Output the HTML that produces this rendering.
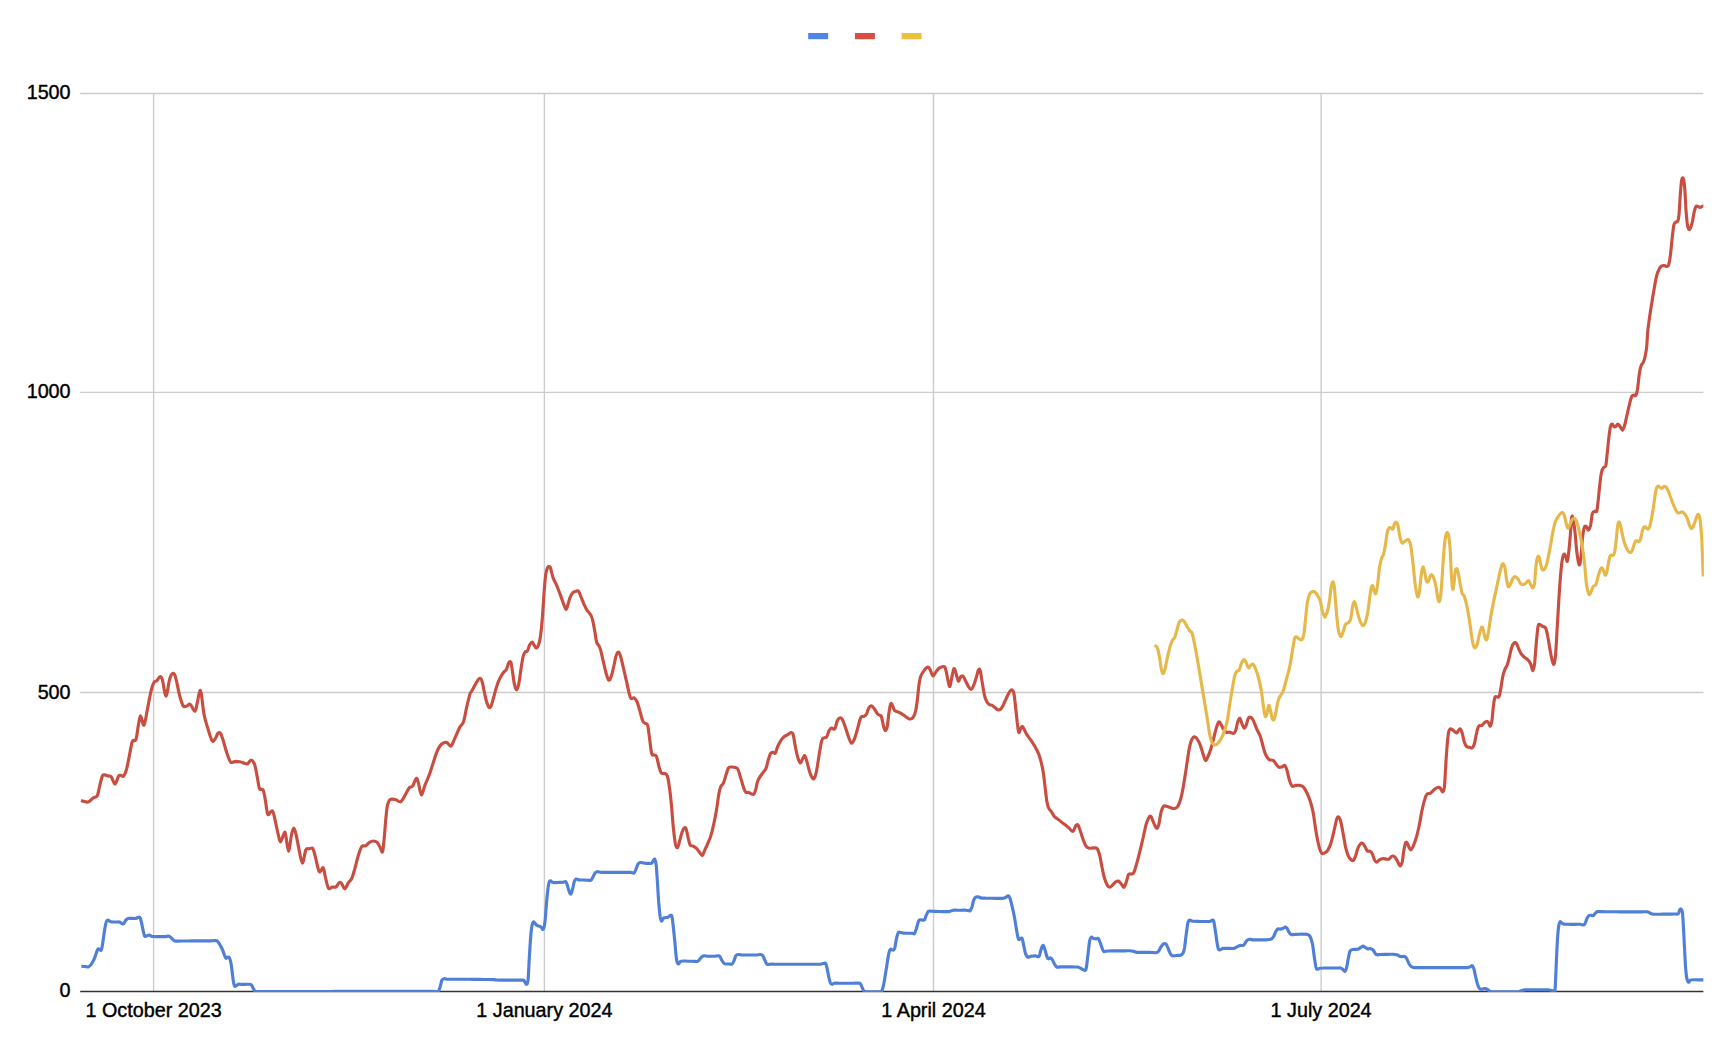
<!DOCTYPE html>
<html lang="en"><head><meta charset="utf-8"><title>Chart</title>
<style>
html,body{margin:0;padding:0;background:#fff;}
body{width:1732px;height:1055px;overflow:hidden;position:relative;font-family:"Liberation Sans",Arial,sans-serif;}
svg{position:absolute;left:0;top:0;display:block;}
.lab{position:absolute;-webkit-text-stroke:0.4px #000;font-size:19.75px;line-height:22px;color:#000;white-space:nowrap;}
.yl{text-align:right;width:60px;left:10.6px;}
.xl{transform:translateX(-50%);top:999.1px;}
</style></head><body>
<svg width="1732" height="1055" viewBox="0 0 1732 1055">
<rect x="0" y="0" width="1732" height="1055" fill="#fff"/>
<g fill="none" stroke="#cccccc" stroke-width="1.4">
<path d="M80.2 93.5 H1703.4"/>
<path d="M80.2 392.4 H1703.4"/>
<path d="M80.2 692.5 H1703.4"/>
<path d="M153.6 93.5 V991.4"/>
<path d="M544.4 93.5 V991.4"/>
<path d="M933.5 93.5 V991.4"/>
<path d="M1321.1 93.5 V991.4"/>
</g>
<path d="M80.2 991.4 H1703.4" stroke="#333333" stroke-width="1.5" fill="none"/>
<clipPath id="ca"><rect x="79.7" y="80" width="1624.2" height="912.1"/></clipPath>
<g fill="none" stroke-linejoin="round" stroke-linecap="butt" stroke-width="3.15" clip-path="url(#ca)">
<path stroke="#4f7fd6" d="M81.3 966.2 C82.0 966.3 84.5 966.5 85.6 966.6 C86.8 966.7 87.3 967.2 88.2 966.9 C89.1 966.6 89.9 966.1 90.8 964.9 C91.8 963.6 93.0 961.7 93.9 959.7 C94.9 957.6 95.7 954.5 96.4 952.7 C97.1 950.9 97.5 949.4 98.1 948.9 C98.7 948.4 99.3 949.4 99.8 949.6 C100.3 949.8 100.8 951.0 101.2 950.1 C101.7 949.2 102.1 947.1 102.6 944.0 C103.1 941.0 103.8 935.5 104.3 931.9 C104.9 928.3 105.5 924.3 106.1 922.4 C106.6 920.4 107.0 920.2 107.8 920.1 C108.6 920.0 109.5 921.5 110.8 921.8 C112.0 922.2 113.6 922.0 115.1 922.0 C116.5 922.1 118.3 921.8 119.4 922.0 C120.6 922.3 121.3 923.3 122.0 923.6 C122.7 923.8 123.1 924.2 123.8 923.6 C124.4 923.0 125.1 921.0 125.8 920.1 C126.6 919.2 127.1 918.7 128.1 918.4 C129.0 918.1 130.3 918.4 131.6 918.4 C132.9 918.4 134.7 918.6 135.9 918.4 C137.1 918.2 137.8 917.2 138.5 917.2 C139.2 917.1 139.7 916.7 140.2 918.0 C140.8 919.3 141.4 922.5 142.0 925.0 C142.5 927.4 143.2 930.9 143.7 932.8 C144.2 934.7 144.3 935.8 144.9 936.2 C145.5 936.7 146.4 935.9 147.2 935.7 C147.9 935.5 148.7 934.9 149.4 935.0 C150.1 935.1 150.6 936.0 151.5 936.2 C152.4 936.5 154.0 936.5 155.0 936.6 C156.0 936.6 156.7 936.6 157.6 936.6 C158.4 936.6 159.3 936.6 160.2 936.6 C161.0 936.6 161.9 936.6 162.8 936.6 C163.6 936.6 164.4 936.6 165.4 936.6 C166.4 936.5 167.8 936.0 168.8 936.2 C169.9 936.5 170.6 937.3 171.4 938.0 C172.3 938.7 173.2 940.1 174.0 940.6 C174.9 941.1 175.4 941.0 176.6 941.1 C177.9 941.2 179.9 941.1 181.6 941.0 C183.2 941.0 184.8 941.0 186.5 941.0 C188.1 941.0 189.8 940.9 191.4 940.9 C192.9 940.9 194.3 940.9 195.7 940.9 C197.2 940.9 198.6 940.9 200.1 940.9 C201.5 940.9 202.9 940.9 204.4 940.9 C205.8 940.9 207.5 941.0 208.7 940.9 C210.0 940.9 210.8 940.8 211.8 940.8 C212.8 940.7 213.9 940.5 214.8 940.6 C215.7 940.6 216.3 940.3 217.1 940.9 C217.8 941.5 218.6 942.7 219.5 944.0 C220.3 945.4 221.4 947.5 222.3 949.2 C223.1 951.0 223.7 953.3 224.3 954.8 C225.0 956.3 225.5 957.9 226.1 958.3 C226.6 958.6 227.2 957.1 227.8 957.1 C228.4 957.0 229.0 956.6 229.5 957.9 C230.1 959.2 230.7 961.4 231.3 964.9 C231.8 968.3 232.5 975.3 233.0 978.7 C233.5 982.2 233.9 984.5 234.4 985.7 C234.9 986.9 235.5 986.2 236.1 986.0 C236.8 985.8 237.4 984.6 238.2 984.3 C239.0 984.0 239.9 984.3 240.8 984.3 C241.7 984.3 242.5 984.3 243.4 984.3 C244.3 984.3 245.1 984.3 246.0 984.3 C246.9 984.3 247.7 984.2 248.6 984.3 C249.5 984.4 250.4 984.0 251.2 984.8 C252.0 985.5 252.8 987.7 253.5 988.8 C254.1 989.9 254.5 990.9 255.2 991.4 C256.0 991.8 257.1 991.4 258.0 991.5 C258.9 991.5 259.5 991.5 260.8 991.6 C262.0 991.6 264.1 991.6 265.7 991.6 C267.4 991.6 269.0 991.5 270.7 991.5 C272.3 991.5 274.0 991.5 275.6 991.5 C277.3 991.5 279.0 991.5 280.6 991.5 C282.3 991.5 283.9 991.5 285.6 991.5 C287.2 991.5 288.9 991.5 290.5 991.5 C292.2 991.5 293.9 991.5 295.5 991.5 C297.2 991.5 298.8 991.5 300.5 991.5 C302.1 991.5 303.8 991.5 305.4 991.5 C307.1 991.5 308.8 991.5 310.4 991.5 C312.1 991.5 313.7 991.5 315.4 991.5 C317.0 991.5 318.7 991.5 320.3 991.5 C322.0 991.5 323.7 991.5 325.3 991.5 C327.0 991.5 328.6 991.5 330.3 991.5 C331.9 991.4 333.6 991.4 335.2 991.4 C336.9 991.4 338.5 991.4 340.2 991.4 C341.9 991.4 343.5 991.4 345.2 991.4 C346.8 991.4 348.5 991.4 350.1 991.4 C351.8 991.4 353.4 991.4 355.1 991.4 C356.8 991.4 358.4 991.4 360.1 991.4 C361.7 991.4 363.4 991.4 365.0 991.4 C366.7 991.4 368.5 991.4 370.0 991.4 C371.5 991.4 372.9 991.4 374.3 991.4 C375.7 991.4 377.1 991.4 378.6 991.4 C380.0 991.4 381.4 991.4 382.9 991.4 C384.3 991.4 385.7 991.4 387.1 991.4 C388.6 991.4 390.0 991.4 391.4 991.4 C392.9 991.4 394.3 991.4 395.7 991.4 C397.1 991.4 398.5 991.4 400.0 991.4 C401.5 991.4 403.2 991.4 404.8 991.4 C406.4 991.4 407.9 991.4 409.5 991.4 C411.1 991.4 412.7 991.4 414.3 991.4 C415.9 991.4 417.5 991.4 419.1 991.4 C420.7 991.4 422.3 991.4 423.8 991.4 C425.4 991.4 427.0 991.4 428.6 991.4 C430.2 991.4 431.8 991.4 433.4 991.4 C435.0 991.4 437.0 992.2 438.2 991.4 C439.3 990.6 439.6 988.4 440.2 986.5 C440.9 984.7 441.3 981.4 442.0 980.1 C442.6 978.8 443.3 978.9 444.2 978.7 C445.2 978.6 446.4 979.2 447.7 979.2 C449.0 979.3 450.6 979.2 452.0 979.2 C453.5 979.2 454.9 979.2 456.4 979.2 C457.8 979.2 459.2 979.2 460.7 979.2 C462.1 979.2 463.6 979.2 465.0 979.2 C466.5 979.2 467.8 979.2 469.4 979.2 C470.9 979.3 472.6 979.3 474.2 979.3 C475.8 979.3 477.5 979.4 479.1 979.4 C480.7 979.4 482.3 979.4 483.9 979.5 C485.5 979.5 487.2 979.5 488.8 979.5 C490.4 979.5 492.4 979.5 493.6 979.6 C494.9 979.7 495.4 979.8 496.2 979.9 C497.1 979.9 497.7 980.1 498.8 980.1 C500.0 980.2 501.8 980.1 503.4 980.1 C504.9 980.1 506.4 980.1 507.9 980.1 C509.4 980.1 510.9 980.1 512.4 980.1 C513.9 980.1 515.4 980.1 516.9 980.1 C518.4 980.1 520.2 980.1 521.4 980.1 C522.6 980.2 523.2 979.8 524.0 980.5 C524.8 981.2 525.6 984.3 526.2 984.3 C526.9 984.3 527.5 984.6 528.0 980.5 C528.5 976.4 528.8 966.3 529.2 959.7 C529.6 953.0 530.0 946.1 530.4 940.6 C530.8 935.1 531.3 929.8 531.8 926.7 C532.3 923.6 532.9 922.3 533.5 921.8 C534.2 921.4 534.9 923.4 535.6 924.1 C536.3 924.8 537.0 925.4 537.9 925.8 C538.7 926.3 539.9 926.1 540.8 926.7 C541.7 927.3 542.4 929.9 543.1 929.3 C543.7 928.7 544.3 926.6 544.8 923.2 C545.3 919.9 545.6 914.3 546.0 909.4 C546.4 904.5 546.9 898.1 547.4 893.8 C547.9 889.4 548.3 885.5 548.8 883.4 C549.3 881.2 549.8 880.9 550.5 880.8 C551.2 880.6 551.7 882.2 552.9 882.5 C554.2 882.8 556.6 882.5 557.8 882.5 C559.0 882.5 559.5 882.4 560.4 882.4 C561.3 882.4 562.1 882.4 563.0 882.3 C563.9 882.2 564.9 881.2 565.6 881.6 C566.3 882.1 566.8 883.5 567.3 885.1 C567.9 886.7 568.5 889.7 569.1 891.2 C569.7 892.7 570.2 894.4 570.8 894.1 C571.4 893.8 572.0 891.5 572.5 889.4 C573.1 887.3 573.7 883.4 574.3 881.6 C574.9 879.9 575.1 879.3 576.0 879.0 C576.9 878.7 578.3 879.7 579.5 879.9 C580.6 880.0 581.8 879.9 582.9 880.0 C584.1 880.0 585.1 880.0 586.4 880.1 C587.7 880.1 589.7 880.7 590.8 880.2 C591.8 879.8 592.1 878.5 592.8 877.3 C593.6 876.1 594.3 873.9 595.1 872.9 C595.8 872.0 596.3 871.8 597.3 871.7 C598.4 871.6 599.9 872.3 601.2 872.4 C602.4 872.5 603.8 872.4 605.1 872.4 C606.4 872.4 607.7 872.4 609.0 872.4 C610.3 872.4 611.6 872.4 612.9 872.4 C614.2 872.4 615.3 872.4 616.8 872.4 C618.2 872.4 619.8 872.4 621.4 872.4 C622.9 872.4 624.5 872.4 626.0 872.4 C627.6 872.4 629.3 872.3 630.6 872.4 C632.0 872.5 633.2 873.6 634.1 872.9 C635.0 872.3 635.5 870.2 636.2 868.6 C636.9 867.0 637.7 864.4 638.4 863.4 C639.2 862.4 639.7 862.6 640.7 862.5 C641.7 862.5 643.3 863.1 644.5 863.2 C645.7 863.4 646.8 863.3 648.0 863.3 C649.1 863.4 650.6 863.8 651.4 863.4 C652.3 863.0 652.6 861.5 653.2 860.8 C653.8 860.1 654.4 858.6 654.9 859.4 C655.4 860.3 655.9 862.0 656.3 866.0 C656.7 870.0 657.1 877.3 657.5 883.4 C657.9 889.4 658.3 896.9 658.7 902.4 C659.2 907.9 659.7 913.2 660.1 916.3 C660.6 919.4 660.9 920.9 661.5 921.2 C662.1 921.4 662.5 918.7 663.6 918.0 C664.7 917.4 666.8 917.6 667.9 917.2 C669.0 916.7 669.5 915.6 670.2 915.4 C670.8 915.3 671.4 914.7 671.9 916.3 C672.4 917.9 672.6 920.6 673.1 925.0 C673.6 929.3 674.3 936.5 674.9 942.3 C675.4 948.1 676.0 956.0 676.6 959.7 C677.2 963.3 677.7 963.7 678.3 964.0 C679.0 964.3 679.6 961.9 680.6 961.4 C681.6 960.9 683.0 961.1 684.4 961.0 C685.7 961.0 687.3 961.1 688.7 961.2 C690.1 961.2 691.6 961.2 693.0 961.3 C694.5 961.3 696.3 961.7 697.3 961.4 C698.4 961.1 698.7 960.4 699.4 959.7 C700.1 958.9 700.9 957.7 701.7 957.1 C702.4 956.4 702.9 956.0 703.9 955.8 C704.9 955.7 706.5 956.1 707.7 956.2 C709.0 956.2 710.1 956.2 711.2 956.2 C712.4 956.2 713.6 956.2 714.7 956.2 C715.8 956.1 716.9 955.8 717.8 955.8 C718.7 955.9 719.2 955.8 719.9 956.5 C720.6 957.3 721.2 959.4 722.0 960.5 C722.7 961.7 723.4 962.9 724.2 963.5 C725.0 964.0 726.0 963.9 726.8 964.0 C727.7 964.1 728.6 964.0 729.4 964.0 C730.3 964.0 731.2 964.6 732.0 964.0 C732.8 963.4 733.5 961.9 734.1 960.5 C734.7 959.2 735.2 956.8 735.8 955.8 C736.5 954.8 737.0 954.6 738.1 954.5 C739.2 954.3 740.9 954.9 742.4 955.0 C743.9 955.1 745.5 955.0 747.1 955.0 C748.6 955.0 750.1 955.0 751.7 955.0 C753.2 955.0 754.8 955.1 756.3 955.0 C757.8 954.9 759.5 954.3 760.6 954.5 C761.7 954.6 762.2 954.8 762.9 955.8 C763.6 956.8 764.3 959.1 765.0 960.5 C765.7 961.9 766.2 963.7 767.1 964.3 C767.9 964.9 768.9 964.2 770.2 964.2 C771.4 964.1 773.1 964.2 774.6 964.2 C776.1 964.2 777.6 964.2 779.1 964.2 C780.6 964.2 782.1 964.2 783.6 964.2 C785.0 964.2 786.5 964.2 788.0 964.2 C789.5 964.2 791.0 964.2 792.5 964.2 C794.0 964.2 795.4 964.2 796.9 964.2 C798.4 964.2 799.8 964.2 801.4 964.2 C802.9 964.2 804.6 964.2 806.2 964.2 C807.7 964.2 809.3 964.2 810.9 964.2 C812.5 964.2 814.1 964.2 815.7 964.2 C817.3 964.2 819.1 964.3 820.5 964.2 C821.8 964.0 822.7 963.6 823.6 963.5 C824.5 963.4 825.1 962.7 825.7 963.5 C826.2 964.3 826.5 966.1 827.1 968.3 C827.6 970.6 828.2 974.5 828.8 977.0 C829.4 979.5 829.9 981.8 830.5 983.1 C831.1 984.3 831.6 984.2 832.3 984.3 C832.9 984.3 833.2 983.4 834.3 983.2 C835.5 983.1 837.5 983.2 839.1 983.2 C840.7 983.2 842.3 983.2 843.9 983.2 C845.5 983.2 847.1 983.2 848.6 983.2 C850.2 983.2 851.9 983.3 853.4 983.2 C854.9 983.2 856.6 983.0 857.7 983.1 C858.9 983.1 859.6 982.9 860.3 983.6 C861.1 984.3 861.5 986.2 862.1 987.4 C862.7 988.6 863.1 990.1 863.8 990.9 C864.5 991.6 865.3 991.6 866.4 991.7 C867.6 991.9 869.3 991.7 870.8 991.7 C872.2 991.7 873.6 991.7 875.1 991.7 C876.5 991.7 878.3 991.9 879.4 991.7 C880.6 991.5 881.3 991.8 882.0 990.5 C882.7 989.2 883.0 987.6 883.8 983.9 C884.5 980.2 885.5 973.5 886.4 968.3 C887.2 963.1 888.2 955.9 889.0 952.7 C889.7 949.5 890.0 949.7 890.7 949.2 C891.4 948.8 892.3 950.3 892.9 950.1 C893.6 950.0 894.1 950.3 894.7 948.4 C895.3 946.5 895.8 941.4 896.4 938.8 C897.0 936.2 897.5 933.9 898.2 932.8 C898.8 931.7 899.3 932.2 900.2 932.3 C901.2 932.3 902.4 933.0 903.7 933.1 C905.0 933.3 906.6 933.2 908.0 933.2 C909.5 933.2 911.3 933.2 912.4 933.3 C913.4 933.4 913.8 934.3 914.5 933.6 C915.1 933.0 915.5 931.3 916.2 929.3 C916.8 927.3 917.8 923.1 918.4 921.5 C919.1 919.9 919.5 920.0 920.2 919.8 C920.9 919.5 922.1 920.1 922.8 920.1 C923.5 920.1 923.9 920.5 924.5 919.8 C925.1 919.0 925.6 916.8 926.2 915.4 C926.9 914.0 927.6 912.2 928.3 911.4 C929.0 910.7 929.5 911.1 930.6 911.1 C931.7 911.1 933.5 911.4 934.9 911.4 C936.3 911.5 937.6 911.5 939.0 911.5 C940.3 911.5 941.7 911.5 943.0 911.6 C944.4 911.6 945.9 911.6 947.1 911.6 C948.2 911.6 948.6 911.7 949.7 911.4 C950.7 911.2 951.8 910.4 953.1 910.2 C954.4 910.0 956.0 910.2 957.5 910.2 C958.9 910.2 960.3 910.2 961.8 910.2 C963.2 910.2 964.8 910.1 966.1 910.2 C967.4 910.3 968.9 910.7 969.6 910.8 C970.3 910.8 969.7 911.3 970.1 910.8 C970.4 910.2 971.2 909.3 971.8 907.6 C972.4 906.0 972.9 902.4 973.5 900.7 C974.2 899.0 974.8 897.9 975.6 897.2 C976.4 896.6 977.2 896.7 978.2 896.9 C979.2 897.0 980.4 897.9 981.7 898.1 C983.0 898.3 984.6 898.1 986.0 898.2 C987.5 898.2 988.9 898.2 990.3 898.2 C991.8 898.2 993.2 898.3 994.7 898.3 C996.1 898.3 997.6 898.3 999.0 898.3 C1000.5 898.3 1002.2 898.4 1003.4 898.3 C1004.5 898.1 1005.1 897.6 1006.0 897.2 C1006.8 896.8 1007.5 895.7 1008.2 895.8 C1008.9 896.0 1009.3 896.4 1009.9 898.1 C1010.6 899.8 1011.2 902.6 1012.0 905.9 C1012.8 909.2 1013.8 913.7 1014.6 918.0 C1015.4 922.4 1016.2 928.4 1016.9 931.9 C1017.5 935.4 1018.0 938.0 1018.6 939.2 C1019.2 940.3 1019.8 939.0 1020.3 938.8 C1020.9 938.7 1021.5 937.3 1022.1 938.5 C1022.7 939.7 1023.2 943.3 1023.8 945.8 C1024.4 948.3 1024.9 951.7 1025.5 953.6 C1026.2 955.5 1026.7 956.6 1027.6 957.1 C1028.6 957.5 1029.8 956.4 1031.1 956.2 C1032.4 956.0 1034.1 955.8 1035.4 955.8 C1036.7 955.9 1038.0 957.3 1038.9 956.5 C1039.8 955.7 1040.1 952.7 1040.6 951.0 C1041.2 949.2 1041.9 947.0 1042.4 946.1 C1042.9 945.3 1043.1 945.0 1043.6 945.8 C1044.1 946.6 1044.7 949.1 1045.3 951.0 C1045.9 952.9 1046.5 955.8 1047.1 957.1 C1047.6 958.4 1047.9 958.6 1048.4 958.8 C1049.0 958.9 1049.9 957.8 1050.5 957.9 C1051.2 958.1 1051.6 958.6 1052.3 959.7 C1052.9 960.7 1053.8 962.7 1054.5 964.0 C1055.3 965.2 1055.9 966.6 1056.8 967.1 C1057.6 967.6 1058.5 967.0 1059.7 966.9 C1060.9 966.9 1062.6 966.9 1064.0 966.9 C1065.5 966.9 1066.9 966.9 1068.4 966.9 C1069.8 966.9 1071.6 966.9 1072.7 966.9 C1073.9 967.0 1074.5 967.0 1075.3 967.0 C1076.2 967.1 1076.9 966.8 1077.9 967.1 C1078.9 967.4 1080.3 968.1 1081.4 968.7 C1082.5 969.2 1083.7 970.5 1084.5 970.4 C1085.3 970.3 1085.7 971.0 1086.2 968.3 C1086.8 965.7 1087.4 959.1 1088.0 954.5 C1088.6 949.8 1089.1 943.5 1089.7 940.6 C1090.3 937.7 1090.8 937.5 1091.4 937.1 C1092.1 936.8 1092.7 938.2 1093.5 938.5 C1094.3 938.8 1095.3 938.8 1096.1 938.8 C1096.9 938.8 1097.7 937.9 1098.4 938.5 C1099.0 939.1 1099.5 940.7 1100.1 942.3 C1100.8 944.0 1101.6 946.8 1102.2 948.4 C1102.8 949.9 1103.1 951.1 1103.9 951.5 C1104.8 951.9 1106.1 951.1 1107.4 951.0 C1108.7 950.9 1110.3 950.9 1111.7 950.9 C1113.2 950.9 1114.6 950.8 1116.1 950.8 C1117.6 950.8 1119.2 950.8 1120.7 950.8 C1122.2 950.8 1123.8 950.8 1125.3 950.8 C1126.9 950.8 1128.6 950.7 1129.9 950.8 C1131.3 950.9 1132.3 951.1 1133.4 951.3 C1134.6 951.6 1135.5 952.2 1136.9 952.4 C1138.2 952.5 1140.0 952.4 1141.5 952.4 C1143.0 952.4 1144.6 952.4 1146.1 952.4 C1147.7 952.4 1149.5 952.3 1150.8 952.4 C1152.0 952.4 1152.5 952.5 1153.4 952.5 C1154.2 952.6 1155.1 952.9 1156.0 952.7 C1156.8 952.5 1157.7 952.3 1158.6 951.3 C1159.4 950.4 1160.0 948.4 1160.8 947.2 C1161.6 946.0 1162.5 944.6 1163.2 944.0 C1164.0 943.5 1164.8 943.4 1165.5 943.7 C1166.2 944.0 1166.6 944.8 1167.2 946.1 C1167.9 947.5 1168.8 950.3 1169.5 951.8 C1170.2 953.4 1170.8 954.7 1171.6 955.3 C1172.3 956.0 1173.2 955.7 1174.2 955.7 C1175.2 955.7 1176.6 955.4 1177.6 955.3 C1178.6 955.3 1179.4 955.6 1180.2 955.3 C1181.1 955.0 1182.1 954.9 1182.8 953.6 C1183.6 952.3 1184.0 950.8 1184.6 947.5 C1185.1 944.2 1185.7 937.8 1186.3 933.6 C1186.9 929.5 1187.5 924.6 1188.0 922.4 C1188.6 920.1 1189.0 920.3 1189.8 920.1 C1190.5 919.9 1191.4 921.0 1192.4 921.2 C1193.4 921.3 1194.7 921.2 1195.8 921.3 C1197.0 921.3 1198.2 921.3 1199.3 921.4 C1200.5 921.4 1201.6 921.5 1202.8 921.5 C1203.9 921.5 1205.1 921.5 1206.2 921.5 C1207.4 921.5 1208.7 921.7 1209.7 921.5 C1210.7 921.3 1211.6 920.2 1212.3 920.1 C1213.0 920.1 1213.2 919.5 1213.7 921.2 C1214.2 922.8 1214.7 926.6 1215.3 930.2 C1215.8 933.7 1216.5 939.1 1217.0 942.3 C1217.5 945.5 1217.9 948.0 1218.4 949.2 C1218.9 950.5 1219.2 949.9 1220.1 949.8 C1221.0 949.6 1222.4 948.6 1223.6 948.4 C1224.7 948.2 1225.9 948.4 1227.1 948.4 C1228.2 948.4 1229.4 948.4 1230.5 948.4 C1231.7 948.4 1232.8 948.7 1234.0 948.4 C1235.1 948.1 1236.4 947.1 1237.5 946.6 C1238.5 946.2 1239.0 945.7 1240.1 945.4 C1241.1 945.2 1242.5 945.9 1243.5 945.3 C1244.5 944.6 1245.3 942.4 1246.1 941.4 C1247.0 940.5 1248.0 939.7 1248.7 939.4 C1249.4 939.0 1249.5 939.3 1250.4 939.4 C1251.3 939.5 1252.6 939.8 1253.9 939.9 C1255.1 940.0 1256.6 939.9 1257.9 939.9 C1259.3 939.9 1260.6 939.9 1262.0 939.9 C1263.3 939.9 1264.9 939.9 1266.0 939.9 C1267.1 939.8 1267.7 939.7 1268.6 939.5 C1269.5 939.4 1270.3 939.7 1271.2 939.2 C1272.1 938.6 1273.0 937.6 1273.8 936.2 C1274.6 934.9 1275.3 932.3 1276.1 931.0 C1276.8 929.8 1277.4 929.1 1278.2 928.8 C1278.9 928.5 1279.9 929.2 1280.8 929.1 C1281.6 929.0 1282.6 928.4 1283.4 928.1 C1284.1 927.7 1284.8 927.0 1285.4 927.1 C1286.1 927.1 1286.6 927.6 1287.2 928.4 C1287.7 929.2 1288.2 930.9 1288.9 931.9 C1289.6 932.9 1290.1 934.1 1291.2 934.5 C1292.3 934.9 1294.0 934.4 1295.5 934.3 C1296.9 934.3 1298.4 934.3 1299.8 934.2 C1301.3 934.2 1302.9 934.1 1304.2 934.2 C1305.5 934.2 1306.6 934.1 1307.6 934.5 C1308.6 934.9 1309.4 935.2 1310.2 936.8 C1311.0 938.4 1311.8 940.8 1312.5 944.0 C1313.2 947.3 1313.6 952.3 1314.2 956.2 C1314.8 960.1 1315.5 965.3 1316.0 967.5 C1316.4 969.6 1316.5 969.0 1317.2 969.2 C1317.8 969.3 1318.8 968.5 1319.8 968.3 C1320.8 968.1 1321.9 968.0 1323.2 968.0 C1324.6 967.9 1326.3 968.0 1327.9 968.0 C1329.4 968.0 1330.9 968.0 1332.5 968.0 C1334.0 968.0 1335.8 968.0 1337.1 968.0 C1338.5 968.0 1339.7 967.8 1340.6 968.0 C1341.5 968.2 1341.9 968.6 1342.7 969.2 C1343.4 969.8 1344.2 971.7 1344.9 971.4 C1345.6 971.2 1346.1 969.7 1346.6 967.5 C1347.2 965.2 1347.8 960.7 1348.4 957.9 C1349.0 955.2 1349.4 952.4 1350.1 951.0 C1350.8 949.6 1351.8 949.9 1352.7 949.6 C1353.6 949.3 1354.5 949.5 1355.3 949.4 C1356.2 949.4 1357.1 949.6 1357.9 949.2 C1358.8 948.9 1359.7 948.0 1360.5 947.5 C1361.4 947.0 1362.3 946.1 1363.1 946.1 C1363.9 946.1 1364.4 947.1 1365.2 947.5 C1366.0 948.0 1367.0 948.7 1368.0 948.9 C1368.9 949.1 1370.1 948.5 1370.9 948.7 C1371.8 948.9 1372.5 949.3 1373.2 950.1 C1373.9 950.9 1374.6 952.8 1375.3 953.6 C1376.0 954.4 1376.5 954.7 1377.3 954.8 C1378.2 954.9 1379.3 954.5 1380.5 954.5 C1381.7 954.4 1383.2 954.4 1384.5 954.4 C1385.9 954.4 1387.2 954.4 1388.6 954.3 C1389.9 954.3 1391.2 954.2 1392.6 954.3 C1394.0 954.4 1395.6 954.4 1396.9 954.8 C1398.2 955.2 1399.1 956.2 1400.4 956.5 C1401.7 956.8 1403.7 956.2 1404.7 956.5 C1405.8 956.9 1406.1 957.5 1406.8 958.8 C1407.5 960.0 1408.3 962.6 1409.1 964.0 C1409.9 965.3 1410.7 966.3 1411.7 966.9 C1412.7 967.5 1413.8 967.5 1415.1 967.6 C1416.5 967.7 1418.3 967.6 1419.9 967.6 C1421.4 967.6 1423.0 967.6 1424.6 967.6 C1426.1 967.6 1427.7 967.6 1429.3 967.6 C1430.8 967.6 1432.4 967.6 1434.0 967.6 C1435.5 967.6 1437.1 967.6 1438.7 967.6 C1440.2 967.6 1441.8 967.6 1443.4 967.6 C1445.0 967.6 1446.5 967.6 1448.1 967.6 C1449.7 967.6 1451.3 967.6 1452.9 967.6 C1454.5 967.6 1456.0 967.6 1457.6 967.6 C1459.2 967.6 1460.8 967.6 1462.4 967.6 C1464.0 967.6 1465.9 967.7 1467.2 967.6 C1468.5 967.5 1469.3 967.3 1470.2 966.9 C1471.0 966.6 1471.6 965.3 1472.2 965.7 C1472.9 966.1 1473.4 967.3 1474.0 969.2 C1474.5 971.1 1475.1 974.5 1475.7 977.0 C1476.3 979.5 1476.8 982.0 1477.4 983.9 C1478.1 985.9 1478.9 987.9 1479.7 988.8 C1480.5 989.7 1481.3 989.2 1482.3 989.1 C1483.3 989.1 1484.7 988.4 1485.8 988.6 C1486.8 988.8 1487.5 989.7 1488.4 990.2 C1489.2 990.7 1489.8 991.5 1491.0 991.7 C1492.2 992.0 1494.0 991.7 1495.6 991.7 C1497.1 991.7 1498.7 991.7 1500.2 991.7 C1501.7 991.7 1503.3 991.7 1504.8 991.7 C1506.4 991.7 1507.9 991.7 1509.5 991.7 C1511.0 991.7 1512.5 991.7 1514.1 991.7 C1515.6 991.7 1517.4 991.9 1518.7 991.7 C1520.1 991.5 1521.0 990.8 1522.2 990.5 C1523.3 990.2 1524.5 990.0 1525.6 989.8 C1526.8 989.7 1528.0 989.8 1529.1 989.8 C1530.3 989.7 1531.4 989.7 1532.6 989.7 C1533.7 989.7 1534.8 989.7 1536.0 989.7 C1537.3 989.7 1538.7 989.7 1540.1 989.7 C1541.4 989.7 1542.8 989.7 1544.1 989.8 C1545.5 989.8 1546.9 989.7 1548.2 989.8 C1549.4 990.0 1550.6 990.2 1551.7 990.5 C1552.7 990.8 1553.7 992.0 1554.3 991.7 C1554.8 991.5 1554.8 992.7 1555.1 989.1 C1555.4 985.5 1555.6 977.6 1556.0 970.1 C1556.3 962.5 1556.8 951.3 1557.2 944.0 C1557.6 936.8 1558.1 930.4 1558.6 926.7 C1559.1 923.0 1559.5 922.5 1560.0 921.8 C1560.5 921.2 1561.1 922.5 1561.7 922.9 C1562.3 923.3 1562.9 923.9 1563.8 924.1 C1564.7 924.3 1566.1 924.2 1567.3 924.2 C1568.4 924.2 1569.4 924.3 1570.7 924.3 C1572.1 924.3 1573.9 924.3 1575.5 924.3 C1577.1 924.3 1578.9 924.2 1580.3 924.3 C1581.6 924.4 1582.9 925.3 1583.7 925.0 C1584.6 924.7 1584.9 923.5 1585.5 922.4 C1586.0 921.2 1586.6 919.2 1587.2 918.0 C1587.8 916.9 1588.3 916.1 1588.9 915.6 C1589.6 915.1 1590.5 915.3 1591.2 915.3 C1591.9 915.3 1592.6 916.0 1593.3 915.6 C1594.0 915.3 1594.6 913.8 1595.4 913.2 C1596.1 912.5 1596.7 911.9 1597.6 911.6 C1598.6 911.4 1599.8 911.6 1601.1 911.6 C1602.4 911.6 1604.0 911.6 1605.4 911.7 C1606.9 911.7 1608.3 911.7 1609.7 911.7 C1611.2 911.7 1612.6 911.7 1614.1 911.7 C1615.5 911.7 1617.0 911.7 1618.4 911.8 C1619.9 911.8 1621.2 911.8 1622.8 911.8 C1624.3 911.8 1626.0 911.8 1627.6 911.8 C1629.2 911.8 1630.8 911.8 1632.5 911.8 C1634.1 911.8 1635.7 911.8 1637.3 911.8 C1638.9 911.8 1640.6 911.8 1642.2 911.8 C1643.8 911.8 1645.8 911.6 1647.0 911.8 C1648.3 912.0 1648.8 912.5 1649.6 912.8 C1650.5 913.2 1651.2 913.8 1652.2 914.0 C1653.2 914.3 1654.3 914.2 1655.7 914.2 C1657.1 914.2 1658.9 914.2 1660.5 914.2 C1662.1 914.2 1663.6 914.1 1665.2 914.1 C1666.8 914.1 1668.4 914.1 1670.0 914.1 C1671.6 914.1 1673.4 914.1 1674.8 914.0 C1676.1 914.0 1677.4 914.3 1678.2 913.7 C1679.1 913.1 1679.2 911.0 1679.6 910.2 C1680.1 909.5 1680.6 908.7 1681.0 909.0 C1681.5 909.3 1682.0 909.0 1682.4 912.0 C1682.8 914.9 1683.1 920.8 1683.4 926.7 C1683.8 932.6 1684.1 940.9 1684.5 947.5 C1684.8 954.2 1685.2 961.7 1685.5 966.6 C1685.9 971.5 1686.2 974.5 1686.6 977.0 C1686.9 979.5 1687.4 980.5 1687.8 981.3 C1688.2 982.2 1688.6 982.4 1689.0 982.2 C1689.4 982.0 1689.6 980.5 1690.4 980.1 C1691.2 979.7 1692.5 979.8 1693.8 979.8 C1695.2 979.7 1697.0 979.8 1698.6 979.8 C1700.2 979.8 1702.6 979.8 1703.4 979.8"/>
<path stroke="#c94e42" d="M81.1 800.3 C81.6 800.5 82.6 801.2 83.9 801.4 C85.1 801.7 87.0 802.5 88.5 801.9 C90.0 801.3 91.7 799.0 93.1 798.0 C94.6 796.9 96.2 797.6 97.3 795.7 C98.4 793.7 98.7 789.7 99.6 786.4 C100.4 783.1 101.5 777.9 102.4 776.0 C103.2 774.1 103.7 774.9 104.7 774.9 C105.6 774.9 107.1 775.7 108.2 776.0 C109.2 776.3 110.0 775.4 111.2 776.7 C112.3 778.1 113.9 784.2 115.1 784.1 C116.3 784.0 117.5 777.4 118.6 776.0 C119.6 774.6 120.5 775.5 121.3 775.5 C122.2 775.5 122.8 777.1 123.6 776.0 C124.5 774.9 125.6 772.7 126.6 769.1 C127.6 765.4 128.7 758.7 129.7 754.0 C130.6 749.4 131.4 743.7 132.4 741.3 C133.5 738.9 134.9 742.2 135.9 739.7 C136.9 737.2 137.4 730.3 138.2 726.3 C139.0 722.3 139.6 716.1 140.5 715.9 C141.5 715.7 142.8 726.3 144.0 725.1 C145.1 724.0 146.3 714.5 147.5 709.0 C148.6 703.4 149.8 696.1 150.9 691.6 C152.0 687.2 153.0 684.2 153.9 682.4 C154.9 680.6 155.7 681.7 156.7 680.8 C157.7 679.8 159.2 676.7 160.2 676.6 C161.1 676.5 161.5 676.8 162.5 680.1 C163.4 683.3 164.8 696.2 166.0 696.2 C167.1 696.2 168.5 683.7 169.4 680.1 C170.4 676.4 170.9 675.2 171.7 674.3 C172.6 673.3 173.7 672.9 174.5 674.3 C175.4 675.6 175.9 678.7 176.8 682.4 C177.7 686.0 178.7 692.3 179.8 696.2 C180.9 700.2 182.1 704.3 183.3 706.0 C184.5 707.6 185.6 706.2 186.8 706.0 C187.9 705.7 188.9 703.4 190.2 704.3 C191.6 705.2 193.7 711.5 194.9 711.3 C196.0 711.1 196.4 706.4 197.2 703.2 C197.9 700.0 198.8 693.8 199.5 692.1 C200.1 690.3 200.3 689.0 201.1 692.8 C201.9 696.6 203.0 709.0 204.1 714.7 C205.2 720.5 206.2 723.1 207.6 727.5 C208.9 731.8 210.8 739.1 212.2 740.9 C213.5 742.6 214.7 739.1 215.7 737.9 C216.6 736.6 217.1 733.9 218.0 733.2 C218.8 732.5 219.8 732.2 220.8 733.7 C221.7 735.2 222.7 739.1 223.8 742.5 C224.8 745.9 226.1 750.8 227.2 754.0 C228.4 757.3 229.3 760.9 230.7 762.1 C232.0 763.4 233.8 761.5 235.3 761.4 C236.9 761.4 238.4 761.4 239.9 761.7 C241.5 762.0 243.3 762.9 244.6 763.3 C245.8 763.6 246.6 764.2 247.6 763.8 C248.5 763.3 249.5 761.0 250.3 760.5 C251.2 760.1 251.9 760.1 252.7 761.0 C253.4 761.8 254.2 762.9 255.0 765.6 C255.7 768.3 256.5 773.3 257.3 777.2 C258.1 781.0 258.6 786.6 259.6 788.7 C260.6 790.8 262.1 788.0 263.1 789.9 C264.0 791.8 264.6 796.2 265.4 800.3 C266.1 804.3 266.8 812.2 267.7 814.2 C268.6 816.1 269.8 812.2 270.7 811.8 C271.6 811.5 272.2 809.9 273.0 811.8 C273.9 813.8 274.9 819.7 275.8 823.4 C276.6 827.1 277.3 830.7 278.1 833.8 C278.9 836.9 279.4 841.9 280.4 841.9 C281.4 841.9 283.0 835.2 283.9 833.8 C284.7 832.5 284.7 830.9 285.5 833.8 C286.3 836.7 287.5 851.0 288.5 851.2 C289.5 851.3 290.6 838.8 291.5 835.0 C292.4 831.1 293.0 828.0 293.8 828.0 C294.6 828.0 295.3 831.5 296.1 835.0 C297.0 838.4 297.9 844.1 298.9 848.8 C299.9 853.5 301.2 863.0 302.4 863.2 C303.5 863.4 304.7 852.4 305.8 850.0 C307.0 847.6 308.2 849.1 309.3 848.8 C310.5 848.6 311.8 847.2 312.8 848.4 C313.7 849.5 314.0 851.9 315.1 855.8 C316.2 859.6 317.9 869.5 319.2 871.5 C320.6 873.5 322.1 866.8 323.2 867.8 C324.2 868.8 324.6 874.4 325.5 877.7 C326.4 881.1 327.3 886.6 328.5 888.2 C329.7 889.7 331.2 887.2 332.4 887.0 C333.7 886.8 334.7 887.8 335.9 887.0 C337.1 886.2 338.4 882.9 339.4 882.4 C340.3 881.8 340.8 882.4 341.7 883.5 C342.6 884.6 343.5 889.0 344.7 888.8 C345.8 888.7 347.5 884.0 348.6 882.4 C349.8 880.7 350.6 881.2 351.6 878.9 C352.7 876.6 353.7 872.5 354.9 868.5 C356.0 864.5 357.4 858.3 358.6 854.6 C359.7 851.0 360.6 848.0 361.8 846.5 C362.9 845.1 364.2 846.5 365.5 845.8 C366.8 845.1 368.1 843.2 369.4 842.4 C370.7 841.6 372.1 841.0 373.4 841.0 C374.6 841.0 375.9 841.3 377.1 842.4 C378.2 843.5 379.4 846.1 380.3 847.7 C381.2 849.2 381.9 853.7 382.6 851.6 C383.3 849.5 383.8 842.0 384.5 835.0 C385.1 828.0 386.0 815.2 386.8 809.5 C387.5 803.8 388.1 802.5 389.1 800.8 C390.0 799.0 391.4 799.3 392.5 799.1 C393.7 799.0 394.7 799.4 396.0 799.8 C397.3 800.3 399.0 802.0 400.2 801.9 C401.3 801.8 401.9 800.7 402.9 799.1 C404.0 797.6 405.3 794.6 406.4 792.7 C407.5 790.7 408.4 788.7 409.4 787.6 C410.5 786.5 411.5 787.5 412.7 786.0 C413.8 784.4 415.4 778.6 416.4 778.3 C417.4 778.0 417.8 781.3 418.7 784.1 C419.5 786.9 420.4 794.8 421.4 795.0 C422.5 795.2 423.7 788.4 424.9 785.3 C426.1 782.1 427.6 779.4 428.8 776.0 C430.1 772.7 431.3 769.0 432.5 765.1 C433.8 761.3 435.2 756.1 436.5 752.9 C437.7 749.7 438.8 747.6 439.9 746.0 C441.1 744.3 442.3 743.5 443.4 742.9 C444.6 742.4 445.6 742.0 446.9 742.5 C448.2 743.0 449.7 746.7 451.0 746.0 C452.4 745.2 453.5 740.9 455.0 737.9 C456.4 734.8 458.2 730.2 459.6 727.5 C461.0 724.8 462.4 725.0 463.5 721.7 C464.7 718.4 465.5 712.4 466.5 707.8 C467.6 703.2 469.2 696.7 470.0 693.9 C470.8 691.2 470.7 692.8 471.6 691.3 C472.5 689.8 474.1 686.7 475.2 684.8 C476.3 682.9 477.3 680.8 478.1 679.7 C479.0 678.6 479.6 678.0 480.3 678.3 C481.0 678.5 481.4 679.2 482.0 681.2 C482.6 683.1 483.3 686.7 483.9 689.9 C484.6 693.0 485.3 697.1 486.1 700.0 C486.9 702.9 488.2 706.3 489.0 707.3 C489.8 708.2 490.3 707.7 491.2 705.8 C492.0 703.9 493.1 699.0 494.1 695.7 C495.0 692.3 496.0 688.4 497.0 685.5 C497.9 682.6 498.8 680.4 499.9 678.3 C501.0 676.1 502.4 673.9 503.5 672.5 C504.6 671.0 505.6 671.1 506.4 669.6 C507.2 668.0 507.9 664.2 508.6 663.0 C509.3 661.8 510.1 661.2 510.8 662.3 C511.4 663.4 511.6 665.9 512.2 669.6 C512.8 673.2 513.7 680.7 514.4 684.1 C515.1 687.4 515.8 689.9 516.6 689.9 C517.3 689.9 518.0 687.4 518.7 684.1 C519.5 680.7 520.2 674.2 520.9 669.6 C521.6 665.0 522.4 659.4 523.1 656.5 C523.8 653.6 524.2 653.1 525.0 652.2 C525.7 651.2 526.7 652.2 527.4 651.0 C528.2 649.8 528.8 646.4 529.6 644.9 C530.4 643.4 531.5 642.0 532.2 642.0 C532.9 642.0 533.3 643.9 534.0 644.9 C534.6 645.9 535.4 647.7 536.1 647.8 C536.9 647.9 537.7 647.1 538.3 645.6 C539.0 644.2 539.5 642.1 540.0 639.1 C540.6 636.1 541.0 632.3 541.5 627.5 C542.0 622.7 542.5 616.6 542.9 610.1 C543.4 603.6 543.9 594.4 544.4 588.4 C544.9 582.3 545.3 577.4 545.8 573.9 C546.4 570.3 547.0 568.4 547.7 567.3 C548.5 566.2 549.5 566.5 550.2 567.3 C550.8 568.2 551.1 570.5 551.6 572.4 C552.2 574.3 552.7 576.9 553.5 578.9 C554.3 581.0 555.3 582.2 556.4 584.7 C557.5 587.3 558.8 590.9 560.1 594.2 C561.3 597.4 562.7 601.8 563.7 604.3 C564.7 606.8 565.4 609.4 566.1 609.4 C566.9 609.4 567.4 606.4 568.0 604.3 C568.7 602.2 569.4 599.0 570.2 597.1 C571.0 595.1 571.9 593.7 572.8 592.7 C573.8 591.7 575.0 591.5 576.0 591.3 C577.0 591.0 577.8 590.3 578.6 591.3 C579.5 592.2 580.2 594.9 581.1 597.1 C582.0 599.2 583.0 602.1 584.0 604.3 C585.0 606.5 585.8 608.4 586.9 610.1 C588.0 611.8 589.5 612.8 590.5 614.5 C591.5 616.1 592.0 617.4 592.7 620.3 C593.4 623.2 594.2 628.2 594.9 631.9 C595.5 635.5 595.8 639.3 596.6 642.0 C597.4 644.7 598.9 644.9 599.9 647.8 C601.0 650.7 601.9 655.4 602.8 659.4 C603.8 663.4 604.8 668.3 605.7 671.7 C606.7 675.2 607.7 679.2 608.6 680.0 C609.5 680.8 610.3 679.0 611.1 676.8 C611.9 674.6 612.9 670.0 613.7 666.7 C614.5 663.3 615.2 658.9 615.9 656.5 C616.6 654.1 617.3 652.4 618.1 652.2 C618.8 651.9 619.4 652.6 620.2 655.1 C621.1 657.5 622.1 662.1 623.1 666.7 C624.2 671.3 625.7 678.0 626.8 682.6 C627.8 687.2 628.6 691.6 629.4 694.2 C630.1 696.9 630.3 698.0 631.1 698.6 C631.9 699.2 633.0 697.4 634.0 697.8 C635.0 698.3 636.0 699.5 636.9 701.5 C637.8 703.4 638.5 706.2 639.5 709.5 C640.4 712.7 641.8 718.5 642.7 720.8 C643.6 723.1 644.3 722.6 645.1 723.2 C645.9 723.9 646.9 722.8 647.6 724.9 C648.2 726.9 648.5 730.7 649.2 735.4 C649.9 740.1 650.8 750.0 651.6 753.2 C652.4 756.5 653.2 754.3 654.0 754.9 C654.9 755.4 655.7 754.6 656.5 756.5 C657.3 758.4 658.1 763.4 658.9 766.2 C659.7 769.0 660.4 771.8 661.3 773.0 C662.3 774.2 663.6 773.0 664.6 773.5 C665.6 774.0 666.5 773.6 667.3 775.9 C668.2 778.2 668.7 782.1 669.4 787.3 C670.2 792.4 670.9 799.7 671.6 806.7 C672.2 813.8 672.9 823.2 673.5 829.4 C674.2 835.6 674.8 841.0 675.4 844.0 C676.1 847.1 676.9 848.1 677.6 847.6 C678.3 847.1 678.9 843.3 679.7 840.8 C680.4 838.3 681.2 834.8 681.9 832.7 C682.7 830.6 683.3 828.8 684.0 828.1 C684.7 827.5 685.5 827.1 686.1 828.6 C686.8 830.2 687.4 834.8 688.1 837.5 C688.7 840.2 689.2 843.4 690.0 844.8 C690.9 846.2 691.9 845.4 693.0 846.0 C694.0 846.5 695.1 847.1 696.2 848.1 C697.3 849.1 698.4 850.9 699.4 852.1 C700.5 853.3 701.5 855.6 702.4 855.4 C703.2 855.1 703.8 852.4 704.6 850.5 C705.5 848.6 706.5 846.5 707.6 844.0 C708.6 841.6 709.7 839.4 710.8 835.9 C711.9 832.4 713.1 827.3 714.0 822.9 C715.0 818.6 715.7 814.8 716.5 810.0 C717.3 805.1 718.2 797.7 718.9 793.8 C719.6 789.8 720.1 788.2 720.8 786.5 C721.6 784.7 722.5 785.3 723.4 783.2 C724.3 781.2 725.3 776.9 726.2 774.3 C727.1 771.7 727.7 769.0 728.6 767.8 C729.6 766.6 730.7 767.1 731.9 767.0 C733.0 767.0 734.4 767.1 735.4 767.5 C736.5 767.9 737.1 767.6 738.0 769.4 C738.9 771.3 739.9 775.4 740.8 778.4 C741.7 781.3 742.7 785.0 743.5 787.3 C744.4 789.6 744.8 791.3 745.7 792.1 C746.5 793.0 747.9 792.2 748.9 792.5 C749.8 792.7 750.5 793.5 751.3 793.8 C752.1 794.0 753.0 794.9 753.8 794.1 C754.5 793.3 755.2 791.1 755.9 788.9 C756.5 786.7 756.9 783.1 757.8 780.8 C758.7 778.5 759.7 777.1 761.1 775.1 C762.4 773.1 764.7 771.2 765.9 768.6 C767.1 766.1 767.5 762.3 768.3 759.7 C769.2 757.1 770.0 754.4 770.8 753.2 C771.6 752.0 772.5 752.4 773.2 752.4 C774.0 752.4 774.6 754.2 775.3 753.2 C776.1 752.3 776.7 748.8 777.6 746.7 C778.5 744.7 779.5 742.7 780.5 741.1 C781.5 739.4 782.5 738.1 783.8 737.0 C785.0 735.9 786.6 735.3 787.8 734.6 C789.0 733.8 790.2 732.5 791.0 732.5 C791.9 732.5 792.5 732.5 793.2 734.6 C793.8 736.7 794.4 741.5 795.1 745.1 C795.8 748.8 796.7 753.5 797.5 756.5 C798.4 759.4 799.4 762.7 800.3 763.0 C801.2 763.2 802.1 759.3 802.9 758.1 C803.6 756.9 804.2 755.1 804.8 755.7 C805.5 756.2 806.0 758.6 806.8 761.3 C807.6 764.0 808.8 769.2 809.7 771.9 C810.6 774.6 811.4 776.5 812.1 777.6 C812.9 778.6 813.5 779.4 814.2 778.4 C815.0 777.3 815.6 775.3 816.5 771.1 C817.4 766.9 818.5 758.4 819.4 753.2 C820.3 748.1 821.0 742.8 821.9 740.3 C822.7 737.7 823.5 738.4 824.3 737.8 C825.1 737.3 825.9 738.2 826.7 737.0 C827.5 735.8 828.3 732.0 829.1 730.5 C830.0 729.0 830.6 728.4 831.6 728.1 C832.5 727.8 833.9 730.1 834.8 728.9 C835.8 727.7 836.4 722.6 837.3 720.8 C838.1 719.0 838.9 718.2 839.7 717.9 C840.5 717.6 841.2 717.6 842.1 719.2 C843.1 720.8 844.3 724.3 845.4 727.3 C846.4 730.3 847.6 734.4 848.6 737.0 C849.6 739.7 850.6 742.8 851.5 743.2 C852.5 743.6 853.3 741.8 854.3 739.4 C855.3 737.1 856.4 732.6 857.5 728.9 C858.6 725.3 859.7 719.7 860.8 717.6 C861.8 715.5 863.1 716.8 864.0 716.3 C865.0 715.7 865.6 715.7 866.4 714.3 C867.2 712.9 868.1 709.2 868.9 707.8 C869.7 706.4 870.4 705.8 871.3 705.9 C872.2 706.0 873.1 707.2 874.2 708.6 C875.3 710.1 876.7 713.1 877.8 714.3 C878.9 715.5 880.3 715.1 881.0 715.9 C881.7 716.8 881.6 717.5 882.1 719.4 C882.5 721.2 883.2 725.3 883.8 727.2 C884.4 729.0 885.0 730.8 885.5 730.6 C886.1 730.5 886.7 729.3 887.3 726.3 C887.9 723.3 888.4 716.2 889.0 712.4 C889.6 708.7 890.2 704.9 890.8 703.8 C891.3 702.6 891.8 704.3 892.5 705.5 C893.2 706.6 893.6 709.5 894.7 710.7 C895.8 711.8 897.5 711.6 899.1 712.4 C900.7 713.2 902.8 714.6 904.3 715.5 C905.7 716.5 906.7 717.4 907.7 718.0 C908.8 718.6 909.5 719.1 910.3 719.0 C911.2 719.0 912.1 718.9 912.9 717.6 C913.8 716.4 914.8 714.5 915.5 711.6 C916.3 708.7 916.7 704.8 917.3 700.3 C917.9 695.8 918.4 688.7 919.0 684.7 C919.6 680.6 920.0 678.2 920.8 676.0 C921.5 673.8 922.5 673.0 923.4 671.7 C924.2 670.4 925.1 668.9 926.0 668.2 C926.8 667.5 927.8 666.9 928.6 667.3 C929.3 667.8 929.9 669.4 930.6 670.8 C931.4 672.3 932.1 675.7 932.9 676.0 C933.7 676.3 934.5 673.8 935.5 672.5 C936.5 671.2 937.8 669.2 939.0 668.2 C940.1 667.3 941.4 667.0 942.4 666.8 C943.4 666.7 944.3 666.1 945.0 667.3 C945.8 668.6 946.2 671.7 946.8 674.3 C947.3 676.9 948.0 680.9 948.5 682.9 C949.0 685.0 949.4 687.0 949.9 686.4 C950.4 685.8 950.9 682.1 951.4 679.5 C952.0 676.9 952.7 672.6 953.2 670.8 C953.7 669.0 954.0 668.2 954.6 668.7 C955.1 669.3 955.7 672.2 956.3 674.3 C956.9 676.4 957.7 680.8 958.4 681.2 C959.1 681.6 959.9 677.7 960.6 676.9 C961.4 676.0 962.1 675.4 962.9 676.0 C963.7 676.6 964.4 678.6 965.3 680.3 C966.2 682.1 967.5 684.9 968.4 686.4 C969.4 687.9 970.2 689.7 971.0 689.5 C971.9 689.4 972.8 687.5 973.6 685.5 C974.5 683.6 975.4 680.3 976.2 677.7 C977.1 675.1 977.8 671.1 978.5 669.9 C979.2 668.8 979.6 668.6 980.2 670.8 C980.9 673.0 981.6 678.9 982.3 682.9 C983.0 687.0 983.7 692.1 984.4 695.1 C985.1 698.1 985.8 699.6 986.6 701.2 C987.5 702.7 988.4 704.0 989.2 704.6 C990.1 705.3 991.0 704.7 991.8 705.1 C992.7 705.6 993.4 706.4 994.5 707.2 C995.5 708.0 996.9 709.5 997.9 709.8 C998.9 710.2 999.7 710.0 1000.5 709.3 C1001.4 708.6 1002.1 707.4 1003.1 705.5 C1004.1 703.6 1005.5 700.0 1006.6 697.7 C1007.7 695.4 1008.8 692.9 1009.7 691.6 C1010.6 690.3 1011.4 689.6 1012.1 689.9 C1012.8 690.2 1013.3 690.5 1013.9 693.4 C1014.5 696.2 1015.0 702.3 1015.6 707.2 C1016.2 712.1 1016.8 718.6 1017.3 722.8 C1017.9 727.0 1018.2 731.4 1018.7 732.4 C1019.2 733.4 1019.9 729.9 1020.5 728.9 C1021.0 727.9 1021.6 726.3 1022.2 726.3 C1022.8 726.3 1023.2 727.6 1023.9 728.9 C1024.7 730.2 1025.4 732.2 1026.5 734.1 C1027.7 736.0 1029.4 738.0 1030.9 740.2 C1032.3 742.3 1033.9 744.8 1035.2 747.1 C1036.5 749.4 1037.7 751.4 1038.7 754.0 C1039.7 756.6 1040.5 759.5 1041.3 762.7 C1042.1 765.9 1042.7 769.1 1043.4 773.1 C1044.0 777.2 1044.5 782.4 1045.1 787.0 C1045.7 791.6 1046.2 797.4 1046.8 800.9 C1047.4 804.3 1047.7 805.9 1048.6 807.8 C1049.4 809.7 1050.7 810.7 1051.7 812.1 C1052.6 813.6 1053.4 815.4 1054.3 816.5 C1055.1 817.5 1056.1 817.9 1056.9 818.6 C1057.7 819.2 1058.0 819.3 1059.1 820.1 C1060.2 821.0 1061.8 822.3 1063.4 823.6 C1065.0 824.8 1067.0 826.3 1068.6 827.6 C1070.2 828.9 1071.8 831.6 1072.9 831.4 C1074.1 831.2 1074.7 827.3 1075.5 826.2 C1076.4 825.1 1077.1 824.2 1077.8 824.8 C1078.5 825.4 1079.0 827.3 1079.9 829.7 C1080.8 832.1 1082.0 836.4 1083.0 839.2 C1084.0 841.9 1084.9 844.6 1086.0 846.1 C1087.0 847.6 1088.1 847.9 1089.4 848.2 C1090.7 848.5 1092.5 847.8 1093.8 847.9 C1095.1 847.9 1096.2 847.4 1097.2 848.7 C1098.2 850.0 1099.0 852.5 1099.8 855.7 C1100.6 858.8 1101.3 864.0 1102.1 867.8 C1102.9 871.6 1103.6 875.3 1104.5 878.2 C1105.4 881.1 1106.4 883.6 1107.3 885.1 C1108.2 886.6 1108.8 887.3 1109.7 887.2 C1110.6 887.2 1111.8 885.7 1112.8 884.8 C1113.9 883.9 1114.9 882.3 1116.0 881.7 C1117.0 881.1 1118.0 880.9 1118.9 881.3 C1119.8 881.8 1120.6 883.3 1121.5 884.3 C1122.4 885.3 1123.3 887.7 1124.1 887.2 C1124.9 886.8 1125.6 883.8 1126.4 881.7 C1127.1 879.6 1127.7 876.0 1128.4 874.7 C1129.2 873.4 1130.2 874.2 1131.0 873.9 C1131.9 873.6 1132.8 874.5 1133.6 873.0 C1134.5 871.6 1135.2 868.7 1136.2 865.2 C1137.3 861.7 1138.6 856.8 1139.7 852.2 C1140.9 847.6 1142.1 842.1 1143.2 837.5 C1144.2 832.8 1145.2 827.8 1146.1 824.5 C1147.1 821.1 1148.1 818.8 1148.9 817.5 C1149.7 816.2 1150.2 815.8 1151.0 816.6 C1151.8 817.5 1152.7 820.8 1153.6 822.7 C1154.5 824.7 1155.7 828.0 1156.5 828.3 C1157.4 828.6 1158.0 827.1 1158.8 824.5 C1159.5 821.8 1160.3 815.3 1161.0 812.3 C1161.8 809.3 1162.6 807.3 1163.5 806.2 C1164.3 805.2 1165.1 806.0 1166.2 806.2 C1167.3 806.4 1168.7 807.1 1170.1 807.5 C1171.4 807.8 1173.1 808.7 1174.4 808.5 C1175.7 808.3 1176.7 808.2 1177.9 806.2 C1179.0 804.3 1180.2 801.5 1181.3 796.7 C1182.5 791.9 1183.8 783.7 1184.8 777.6 C1185.8 771.6 1186.6 765.3 1187.4 760.3 C1188.2 755.2 1188.7 750.9 1189.5 747.3 C1190.3 743.7 1191.4 740.3 1192.3 738.6 C1193.1 736.9 1193.8 736.7 1194.7 736.9 C1195.5 737.0 1196.5 738.0 1197.5 739.5 C1198.4 740.9 1199.4 742.9 1200.4 745.5 C1201.4 748.2 1202.5 752.6 1203.4 755.1 C1204.2 757.6 1204.8 760.5 1205.6 760.6 C1206.4 760.8 1207.3 757.9 1208.2 756.0 C1209.1 754.0 1209.9 751.8 1210.8 749.0 C1211.7 746.3 1212.5 742.8 1213.4 739.5 C1214.3 736.2 1215.1 732.0 1216.0 729.1 C1216.9 726.2 1217.8 723.0 1218.6 722.1 C1219.4 721.3 1219.9 722.7 1220.7 723.9 C1221.5 725.0 1222.5 727.7 1223.5 729.1 C1224.4 730.5 1225.3 731.7 1226.4 732.2 C1227.5 732.7 1228.7 732.0 1229.9 732.2 C1231.0 732.4 1232.4 733.6 1233.4 733.4 C1234.3 733.2 1234.9 732.7 1235.6 730.8 C1236.3 728.9 1237.0 724.2 1237.7 722.1 C1238.4 720.1 1239.0 718.0 1239.8 718.3 C1240.5 718.6 1241.3 722.2 1242.0 723.9 C1242.8 725.5 1243.6 728.1 1244.3 728.2 C1245.0 728.4 1245.7 726.3 1246.4 724.7 C1247.0 723.2 1247.4 719.9 1248.1 718.7 C1248.8 717.4 1249.8 717.0 1250.7 717.3 C1251.6 717.6 1252.3 718.4 1253.3 720.4 C1254.3 722.4 1255.6 726.5 1256.8 729.1 C1257.9 731.7 1259.2 733.3 1260.2 736.0 C1261.2 738.8 1262.0 742.5 1262.8 745.5 C1263.7 748.6 1264.4 751.9 1265.4 754.2 C1266.4 756.5 1267.6 758.4 1268.9 759.4 C1270.2 760.4 1272.1 759.6 1273.2 760.3 C1274.4 761.0 1274.9 762.6 1275.8 763.8 C1276.8 764.9 1277.9 766.7 1279.0 767.2 C1280.0 767.7 1280.9 767.2 1281.9 766.9 C1282.9 766.6 1284.0 764.9 1284.9 765.5 C1285.7 766.1 1286.3 768.1 1287.1 770.7 C1287.9 773.3 1288.8 778.5 1289.7 781.1 C1290.6 783.7 1291.3 785.6 1292.3 786.3 C1293.3 787.0 1294.5 785.6 1295.8 785.4 C1297.1 785.3 1298.8 785.1 1300.1 785.4 C1301.4 785.7 1302.4 785.9 1303.6 787.2 C1304.7 788.5 1306.0 790.9 1307.1 793.2 C1308.2 795.5 1309.2 797.9 1310.2 801.0 C1311.2 804.2 1312.2 807.5 1313.1 812.3 C1314.0 817.1 1314.9 824.5 1315.7 829.7 C1316.6 834.9 1317.5 839.9 1318.3 843.5 C1319.1 847.1 1319.9 849.7 1320.6 851.3 C1321.2 853.0 1321.5 853.4 1322.3 853.6 C1323.1 853.8 1324.4 853.1 1325.3 852.5 C1326.2 852.0 1326.8 851.9 1327.7 850.4 C1328.6 848.9 1329.8 846.6 1330.8 843.5 C1331.8 840.3 1333.0 835.2 1333.9 831.3 C1334.9 827.4 1335.7 822.5 1336.4 820.1 C1337.1 817.7 1337.4 816.9 1338.1 816.9 C1338.8 816.9 1339.5 817.5 1340.3 820.1 C1341.2 822.6 1342.1 827.7 1342.9 832.2 C1343.8 836.7 1344.7 843.0 1345.5 846.9 C1346.4 850.8 1347.2 853.4 1348.2 855.6 C1349.1 857.8 1350.4 859.2 1351.3 859.9 C1352.1 860.7 1352.7 860.9 1353.4 860.3 C1354.0 859.7 1354.7 858.4 1355.4 856.5 C1356.2 854.5 1356.9 850.8 1357.7 848.7 C1358.5 846.6 1359.4 844.9 1360.3 844.0 C1361.2 843.1 1362.1 843.0 1362.9 843.5 C1363.7 844.0 1364.4 845.7 1365.1 846.9 C1365.9 848.2 1366.4 850.2 1367.2 850.9 C1368.1 851.6 1369.5 850.8 1370.3 851.3 C1371.2 851.8 1371.7 852.4 1372.4 853.9 C1373.1 855.3 1373.8 858.6 1374.5 859.9 C1375.2 861.3 1376.0 862.2 1376.8 862.2 C1377.6 862.2 1378.4 860.5 1379.4 859.9 C1380.4 859.3 1381.7 858.7 1382.8 858.6 C1384.0 858.4 1385.3 859.0 1386.3 859.1 C1387.3 859.2 1388.0 859.5 1388.9 859.1 C1389.8 858.6 1390.7 857.0 1391.5 856.5 C1392.3 856.0 1392.9 855.8 1393.6 856.1 C1394.3 856.4 1395.1 857.1 1395.8 858.2 C1396.6 859.3 1397.4 861.2 1398.1 862.5 C1398.8 863.8 1399.5 866.2 1400.2 866.0 C1400.9 865.9 1401.6 864.4 1402.3 861.7 C1402.9 858.9 1403.4 852.7 1404.0 849.5 C1404.6 846.4 1405.1 843.6 1405.7 842.6 C1406.3 841.6 1406.9 842.6 1407.5 843.5 C1408.0 844.3 1408.6 846.7 1409.2 847.8 C1409.8 848.9 1410.3 850.2 1410.9 849.9 C1411.6 849.6 1412.3 848.0 1413.2 846.1 C1414.0 844.1 1415.2 841.4 1416.1 838.3 C1417.1 835.1 1417.9 831.5 1418.9 827.0 C1419.9 822.5 1420.9 815.9 1421.8 811.4 C1422.8 806.9 1423.6 803.0 1424.5 800.1 C1425.3 797.2 1426.0 795.2 1427.1 794.0 C1428.1 792.9 1429.4 793.9 1430.5 793.2 C1431.7 792.5 1432.8 790.7 1434.0 789.7 C1435.1 788.8 1436.4 787.7 1437.5 787.5 C1438.5 787.2 1439.2 787.2 1440.1 788.0 C1440.9 788.7 1441.9 792.1 1442.7 792.0 C1443.4 791.8 1443.9 791.1 1444.4 787.1 C1444.9 783.1 1445.2 774.7 1445.6 768.0 C1446.0 761.4 1446.5 753.0 1447.0 747.2 C1447.5 741.4 1447.9 736.4 1448.4 733.4 C1448.9 730.3 1449.3 729.5 1450.1 729.0 C1450.9 728.5 1452.0 729.6 1453.1 730.2 C1454.1 730.9 1455.6 733.1 1456.5 733.0 C1457.5 732.9 1458.1 730.5 1458.8 729.9 C1459.5 729.2 1459.9 728.4 1460.5 729.0 C1461.1 729.6 1461.6 731.2 1462.3 733.4 C1462.9 735.5 1463.6 739.8 1464.3 742.0 C1465.1 744.3 1466.1 746.0 1466.9 746.9 C1467.8 747.7 1468.7 747.0 1469.5 747.2 C1470.4 747.4 1471.3 748.7 1472.1 748.1 C1472.9 747.5 1473.7 746.2 1474.4 743.8 C1475.1 741.3 1475.8 736.2 1476.5 733.4 C1477.2 730.5 1477.7 727.7 1478.6 726.4 C1479.4 725.1 1480.7 726.1 1481.7 725.5 C1482.6 725.0 1483.4 723.7 1484.3 722.9 C1485.1 722.2 1486.2 721.2 1486.9 721.2 C1487.6 721.2 1488.0 722.1 1488.6 722.9 C1489.2 723.8 1489.8 726.6 1490.3 726.1 C1490.9 725.5 1491.6 722.9 1492.1 719.5 C1492.6 716.1 1492.9 709.4 1493.5 705.6 C1494.0 701.8 1494.3 698.4 1495.2 696.9 C1496.1 695.5 1497.9 698.1 1498.8 697.0 C1499.6 695.9 1499.8 693.8 1500.5 690.4 C1501.2 687.0 1502.0 680.0 1502.8 676.5 C1503.5 673.1 1504.1 671.6 1504.8 669.6 C1505.6 667.6 1506.6 666.7 1507.4 664.4 C1508.2 662.1 1509.0 658.6 1509.7 655.7 C1510.4 652.8 1511.0 649.2 1511.8 647.1 C1512.5 644.9 1513.6 643.3 1514.4 642.7 C1515.2 642.1 1515.9 642.6 1516.6 643.6 C1517.3 644.6 1517.9 647.1 1518.7 648.8 C1519.5 650.5 1520.3 652.5 1521.3 654.0 C1522.3 655.4 1523.6 656.5 1524.8 657.5 C1525.9 658.5 1527.2 658.9 1528.2 660.1 C1529.3 661.2 1530.1 662.7 1530.8 664.4 C1531.6 666.1 1532.3 670.8 1532.9 670.5 C1533.6 670.2 1534.1 667.4 1534.7 662.7 C1535.2 657.9 1535.8 647.9 1536.4 641.9 C1537.0 635.8 1537.5 629.1 1538.1 626.2 C1538.7 623.4 1539.1 624.5 1539.9 624.5 C1540.7 624.6 1542.0 626.0 1543.0 626.6 C1543.9 627.2 1544.8 626.3 1545.6 628.0 C1546.4 629.7 1547.0 632.3 1547.8 636.7 C1548.7 641.0 1549.9 649.4 1550.8 654.0 C1551.7 658.6 1552.6 664.1 1553.4 664.4 C1554.2 664.7 1554.8 661.8 1555.5 655.7 C1556.1 649.7 1556.5 639.0 1557.2 628.0 C1557.9 617.0 1558.7 600.5 1559.5 589.8 C1560.2 579.1 1561.0 569.7 1561.7 563.8 C1562.4 557.9 1563.1 555.4 1563.8 554.3 C1564.5 553.1 1565.3 555.7 1565.9 556.9 C1566.5 558.0 1566.7 562.4 1567.3 561.2 C1567.8 560.1 1568.5 554.4 1569.0 549.9 C1569.5 545.5 1570.0 539.1 1570.4 534.3 C1570.8 529.6 1571.0 524.4 1571.2 521.3 C1571.5 518.3 1571.8 516.6 1572.1 516.1 C1572.4 515.7 1572.6 517.1 1573.0 518.7 C1573.3 520.3 1573.8 522.8 1574.2 525.7 C1574.6 528.6 1575.0 531.7 1575.4 536.1 C1575.8 540.4 1576.2 546.9 1576.8 551.7 C1577.4 556.5 1578.4 563.5 1579.1 564.7 C1579.7 565.8 1580.2 563.1 1580.8 558.6 C1581.4 554.1 1581.9 543.0 1582.5 537.8 C1583.1 532.6 1583.6 529.3 1584.3 527.4 C1584.9 525.5 1585.6 526.1 1586.3 526.5 C1587.0 527.0 1587.7 530.3 1588.4 530.0 C1589.1 529.7 1590.0 527.6 1590.7 524.8 C1591.3 522.0 1591.7 515.7 1592.4 513.4 C1593.1 511.2 1593.9 511.7 1594.7 511.3 C1595.4 511.0 1596.2 513.0 1596.7 511.3 C1597.3 509.7 1597.6 505.8 1598.1 501.3 C1598.6 496.7 1599.3 488.8 1599.9 483.9 C1600.4 479.0 1601.0 474.5 1601.6 471.8 C1602.2 469.0 1603.0 468.5 1603.7 467.5 C1604.4 466.4 1605.2 467.9 1605.8 465.7 C1606.3 463.6 1606.6 459.2 1607.1 454.5 C1607.7 449.7 1608.3 441.9 1608.9 437.1 C1609.5 432.3 1610.0 428.0 1610.6 425.8 C1611.2 423.7 1611.8 424.0 1612.3 424.1 C1612.9 424.2 1613.5 426.3 1614.1 426.7 C1614.7 427.1 1615.2 426.8 1615.8 426.4 C1616.5 425.9 1617.2 424.0 1617.9 424.1 C1618.6 424.2 1619.4 425.7 1620.2 426.7 C1620.9 427.7 1621.7 430.3 1622.4 430.2 C1623.1 430.0 1623.7 428.4 1624.5 425.8 C1625.3 423.2 1626.2 418.3 1627.1 414.6 C1628.0 410.8 1628.9 406.3 1629.7 403.3 C1630.5 400.3 1631.0 397.7 1631.8 396.4 C1632.5 395.0 1633.4 395.3 1634.0 395.1 C1634.7 395.0 1635.2 396.4 1635.8 395.5 C1636.3 394.5 1636.9 392.9 1637.5 389.4 C1638.1 386.0 1638.6 378.6 1639.2 374.7 C1639.8 370.8 1640.3 368.0 1641.0 366.0 C1641.6 364.0 1642.5 364.0 1643.2 362.5 C1643.9 361.1 1644.4 359.9 1644.9 357.3 C1645.5 354.7 1646.2 351.5 1646.7 346.9 C1647.2 342.3 1647.2 336.1 1647.9 329.7 C1648.6 323.4 1649.8 315.6 1650.8 308.9 C1651.9 302.3 1653.0 295.3 1654.0 289.9 C1654.9 284.4 1655.7 279.5 1656.6 276.0 C1657.4 272.5 1658.3 270.7 1659.2 269.0 C1660.0 267.4 1660.9 266.5 1661.8 265.9 C1662.6 265.3 1663.5 265.5 1664.4 265.6 C1665.2 265.7 1666.2 266.6 1667.0 266.4 C1667.7 266.3 1668.1 266.6 1668.7 264.7 C1669.3 262.8 1669.9 259.7 1670.4 255.2 C1671.0 250.7 1671.6 242.9 1672.2 237.8 C1672.8 232.8 1673.3 227.4 1673.9 224.8 C1674.5 222.2 1675.0 222.9 1675.6 222.2 C1676.3 221.6 1677.3 222.3 1677.9 220.8 C1678.5 219.4 1678.7 217.9 1679.1 213.6 C1679.5 209.2 1679.9 200.1 1680.3 194.5 C1680.8 188.8 1681.2 182.3 1681.7 179.7 C1682.2 177.1 1682.9 177.3 1683.4 178.9 C1684.0 180.5 1684.4 184.1 1684.8 189.3 C1685.3 194.5 1685.6 204.3 1686.0 210.1 C1686.5 215.9 1686.8 220.7 1687.3 224.0 C1687.8 227.2 1688.4 228.9 1689.0 229.5 C1689.6 230.1 1690.2 228.8 1690.7 227.4 C1691.3 226.1 1691.9 224.0 1692.5 221.4 C1693.0 218.8 1693.6 214.3 1694.2 211.8 C1694.8 209.4 1695.4 207.5 1695.9 206.6 C1696.5 205.7 1697.0 206.1 1697.7 206.3 C1698.3 206.4 1699.2 207.5 1699.9 207.5 C1700.7 207.5 1701.6 206.6 1702.2 206.3 C1702.8 206.0 1703.2 205.8 1703.4 205.8"/>
<path stroke="#e6b84a" d="M1154.7 645.2 C1155.2 645.7 1156.6 646.0 1157.3 647.8 C1158.1 649.7 1158.8 653.0 1159.4 656.5 C1160.1 660.0 1160.6 665.8 1161.2 668.6 C1161.7 671.5 1162.3 673.2 1162.9 673.5 C1163.5 673.8 1164.0 672.6 1164.6 670.4 C1165.3 668.1 1166.1 663.6 1166.9 660.0 C1167.7 656.4 1168.6 651.9 1169.5 648.7 C1170.3 645.5 1171.2 642.8 1172.1 640.9 C1172.9 639.0 1173.9 639.2 1174.7 637.4 C1175.5 635.7 1176.0 632.9 1176.8 630.5 C1177.5 628.0 1178.2 624.4 1179.0 622.7 C1179.8 621.0 1180.8 620.3 1181.6 620.1 C1182.5 619.9 1183.4 620.5 1184.2 621.5 C1185.1 622.5 1186.0 624.7 1186.8 626.2 C1187.7 627.7 1188.6 629.3 1189.4 630.5 C1190.3 631.6 1191.2 630.8 1192.0 633.1 C1192.9 635.4 1193.8 640.2 1194.6 644.4 C1195.5 648.6 1196.4 653.3 1197.2 658.2 C1198.1 663.2 1199.0 668.6 1199.8 673.8 C1200.7 679.0 1201.6 684.2 1202.4 689.5 C1203.3 694.7 1204.2 699.9 1205.0 705.1 C1205.9 710.3 1206.8 715.8 1207.6 720.7 C1208.4 725.6 1209.0 730.9 1209.7 734.5 C1210.4 738.2 1211.2 740.6 1212.0 742.3 C1212.8 744.1 1213.6 744.8 1214.6 744.9 C1215.6 745.1 1216.9 744.4 1218.0 743.2 C1219.2 742.1 1220.3 740.3 1221.5 738.0 C1222.7 735.7 1224.0 732.5 1225.0 729.3 C1226.0 726.2 1226.7 723.6 1227.6 718.9 C1228.4 714.3 1229.3 707.1 1230.2 701.6 C1231.0 696.1 1232.0 690.5 1232.8 686.0 C1233.6 681.5 1234.3 677.2 1235.0 674.7 C1235.8 672.3 1236.4 672.0 1237.1 671.2 C1237.8 670.5 1238.5 671.3 1239.2 670.0 C1239.9 668.7 1240.7 665.2 1241.4 663.4 C1242.2 661.7 1243.0 659.9 1243.7 659.6 C1244.4 659.3 1245.0 660.3 1245.8 661.7 C1246.6 663.1 1247.5 667.2 1248.4 667.8 C1249.2 668.4 1250.2 665.8 1251.0 665.2 C1251.8 664.6 1252.3 663.6 1253.1 664.3 C1253.9 665.0 1254.9 667.1 1255.8 669.5 C1256.8 672.0 1257.9 675.4 1258.8 679.0 C1259.7 682.7 1260.6 686.6 1261.4 691.2 C1262.2 695.8 1262.8 702.6 1263.5 706.8 C1264.1 711.0 1264.6 715.2 1265.2 716.3 C1265.8 717.5 1266.4 715.5 1266.9 713.7 C1267.5 711.9 1268.1 706.0 1268.7 705.4 C1269.2 704.8 1269.8 708.2 1270.4 710.3 C1271.0 712.4 1271.6 716.5 1272.1 718.1 C1272.7 719.7 1273.3 720.5 1273.9 719.8 C1274.5 719.1 1274.9 716.8 1275.6 713.7 C1276.3 710.7 1277.1 704.6 1277.9 701.6 C1278.7 698.6 1279.6 697.3 1280.5 695.5 C1281.3 693.8 1282.1 693.9 1283.1 691.2 C1284.1 688.4 1285.4 683.4 1286.5 679.0 C1287.7 674.7 1289.0 670.1 1290.0 665.2 C1291.0 660.3 1291.8 654.0 1292.6 649.6 C1293.4 645.1 1294.0 640.4 1294.7 638.3 C1295.4 636.2 1296.1 636.9 1296.9 637.1 C1297.7 637.2 1298.7 638.8 1299.5 639.2 C1300.4 639.6 1301.4 640.4 1302.1 639.5 C1302.9 638.6 1303.3 637.5 1303.9 634.0 C1304.5 630.4 1305.0 623.6 1305.6 618.4 C1306.2 613.2 1306.7 606.8 1307.3 602.7 C1308.0 598.7 1308.7 596.0 1309.6 594.1 C1310.5 592.2 1311.6 591.8 1312.5 591.5 C1313.5 591.2 1314.3 591.6 1315.1 592.3 C1316.0 593.1 1316.9 594.4 1317.7 595.8 C1318.6 597.3 1319.6 598.4 1320.3 601.0 C1321.1 603.6 1321.7 608.8 1322.4 611.4 C1323.2 614.0 1324.2 615.8 1324.7 616.6 C1325.1 617.5 1324.7 617.5 1325.1 616.6 C1325.6 615.7 1326.7 614.0 1327.4 611.4 C1328.1 608.8 1328.8 605.0 1329.5 601.0 C1330.1 596.9 1330.6 590.3 1331.2 587.1 C1331.8 583.9 1332.4 581.6 1332.9 581.6 C1333.5 581.6 1333.9 583.9 1334.3 587.1 C1334.8 590.3 1335.1 596.1 1335.5 601.0 C1336.0 605.9 1336.3 611.7 1336.8 616.6 C1337.3 621.5 1337.8 627.1 1338.5 630.5 C1339.2 633.8 1340.0 636.2 1340.8 636.5 C1341.5 636.8 1342.2 634.2 1343.0 632.2 C1343.8 630.2 1344.6 626.0 1345.4 624.4 C1346.3 622.8 1347.3 623.5 1348.2 622.7 C1349.1 621.8 1349.9 621.6 1350.6 619.2 C1351.3 616.7 1351.8 610.8 1352.4 607.9 C1352.9 605.0 1353.5 602.3 1354.1 601.8 C1354.7 601.4 1355.2 603.2 1355.8 605.3 C1356.5 607.5 1357.3 612.0 1358.1 614.9 C1358.9 617.7 1359.9 620.9 1360.7 622.7 C1361.5 624.5 1362.1 625.5 1362.8 625.6 C1363.5 625.7 1364.2 625.3 1365.0 623.2 C1365.8 621.1 1366.8 617.4 1367.6 613.1 C1368.4 608.8 1369.1 601.8 1369.7 597.5 C1370.3 593.2 1370.9 589.0 1371.4 587.1 C1372.0 585.2 1372.3 585.4 1372.8 586.2 C1373.4 587.1 1374.0 591.2 1374.6 592.3 C1375.1 593.5 1375.4 594.6 1376.0 593.2 C1376.5 591.7 1377.1 587.8 1377.7 583.6 C1378.3 579.5 1378.8 572.2 1379.4 568.0 C1380.1 563.8 1380.8 560.8 1381.5 558.5 C1382.2 556.2 1382.9 556.3 1383.6 554.2 C1384.2 552.0 1384.7 549.0 1385.3 545.5 C1385.9 542.0 1386.5 536.2 1387.1 533.4 C1387.6 530.5 1388.1 529.1 1388.8 528.2 C1389.5 527.2 1390.4 527.7 1391.0 527.8 C1391.7 527.9 1392.2 529.7 1392.8 529.0 C1393.4 528.4 1393.9 525.0 1394.5 523.8 C1395.1 522.7 1395.7 521.8 1396.2 522.1 C1396.8 522.4 1397.4 523.2 1398.0 525.5 C1398.6 527.9 1399.0 533.1 1399.7 536.0 C1400.4 538.8 1401.2 541.9 1402.0 542.9 C1402.7 543.9 1403.3 542.5 1404.0 542.0 C1404.8 541.5 1405.8 540.2 1406.6 539.9 C1407.5 539.7 1408.2 539.1 1408.9 540.3 C1409.6 541.5 1410.3 543.2 1411.0 547.2 C1411.7 551.3 1412.3 558.2 1413.1 564.6 C1413.8 570.9 1414.6 580.0 1415.3 585.4 C1416.1 590.7 1416.9 595.5 1417.6 596.6 C1418.2 597.8 1418.7 595.6 1419.3 592.3 C1419.9 589.0 1420.5 580.9 1421.0 576.7 C1421.6 572.5 1422.2 568.0 1422.8 567.2 C1423.4 566.3 1423.9 569.3 1424.5 571.5 C1425.1 573.7 1425.7 578.4 1426.2 580.2 C1426.8 581.9 1427.3 582.5 1428.0 581.9 C1428.6 581.3 1429.4 577.9 1430.1 576.7 C1430.7 575.5 1431.2 574.3 1431.8 574.6 C1432.4 574.9 1433.2 576.4 1433.9 578.4 C1434.6 580.5 1435.5 583.8 1436.1 587.1 C1436.8 590.4 1437.3 596.1 1437.9 598.4 C1438.4 600.7 1439.0 602.6 1439.6 601.0 C1440.2 599.4 1440.8 595.2 1441.3 588.8 C1441.9 582.5 1442.5 570.6 1443.1 562.8 C1443.6 555.0 1444.2 546.9 1444.8 542.0 C1445.4 537.1 1446.0 534.7 1446.5 533.4 C1447.1 532.1 1447.7 531.9 1448.3 534.2 C1448.8 536.5 1449.5 541.0 1450.0 547.2 C1450.5 553.4 1450.8 564.6 1451.2 571.5 C1451.6 578.4 1452.1 586.8 1452.6 588.8 C1453.1 590.9 1453.6 586.5 1454.0 583.6 C1454.4 580.8 1454.7 574.0 1455.2 571.5 C1455.7 569.0 1456.4 568.3 1456.9 568.9 C1457.5 569.5 1458.1 572.2 1458.7 575.0 C1459.2 577.7 1459.8 582.3 1460.4 585.4 C1461.0 588.4 1461.5 591.3 1462.1 593.2 C1462.8 595.1 1463.7 594.8 1464.4 596.6 C1465.1 598.5 1465.7 600.8 1466.5 604.5 C1467.3 608.1 1468.3 613.4 1469.1 618.3 C1469.9 623.2 1470.7 629.6 1471.3 633.9 C1472.0 638.3 1472.4 642.0 1473.1 644.3 C1473.7 646.6 1474.5 647.8 1475.1 647.8 C1475.8 647.8 1476.5 646.6 1477.2 644.3 C1477.9 642.0 1478.7 636.8 1479.5 633.9 C1480.2 631.0 1481.1 627.6 1481.7 627.0 C1482.4 626.4 1482.9 628.6 1483.5 630.5 C1484.0 632.3 1484.6 636.8 1485.2 638.3 C1485.8 639.7 1486.4 640.4 1486.9 639.1 C1487.5 637.8 1488.0 634.2 1488.7 630.5 C1489.3 626.7 1490.0 621.2 1490.8 616.6 C1491.5 612.0 1492.5 607.1 1493.4 602.7 C1494.2 598.4 1495.1 594.6 1496.0 590.6 C1496.8 586.5 1497.7 582.3 1498.6 578.4 C1499.4 574.5 1500.4 569.6 1501.2 567.2 C1501.9 564.7 1502.6 563.6 1503.2 563.7 C1503.9 563.8 1504.4 565.3 1505.0 568.0 C1505.5 570.8 1506.1 577.1 1506.7 580.2 C1507.3 583.3 1507.8 586.2 1508.4 586.8 C1509.1 587.3 1509.9 585.0 1510.7 583.6 C1511.4 582.3 1512.2 579.6 1512.9 578.4 C1513.7 577.3 1514.5 576.6 1515.4 576.7 C1516.2 576.8 1517.3 578.2 1518.2 579.3 C1519.0 580.5 1519.7 582.8 1520.6 583.6 C1521.5 584.5 1522.7 584.7 1523.7 584.5 C1524.7 584.4 1525.5 583.4 1526.3 582.8 C1527.1 582.1 1527.8 580.2 1528.6 580.5 C1529.3 580.8 1529.9 583.3 1530.6 584.5 C1531.3 585.8 1532.1 588.1 1532.7 588.0 C1533.4 587.8 1533.9 587.0 1534.5 583.6 C1535.0 580.3 1535.4 572.2 1535.8 568.0 C1536.3 563.8 1536.7 560.4 1537.2 558.5 C1537.7 556.6 1538.2 555.2 1539.0 556.8 C1539.7 558.4 1540.9 565.8 1541.6 568.0 C1542.3 570.3 1542.5 570.1 1543.1 570.1 C1543.7 570.1 1544.5 569.4 1545.2 568.0 C1545.9 566.6 1546.6 564.6 1547.3 561.8 C1548.0 559.0 1548.7 555.0 1549.4 551.3 C1550.1 547.7 1550.8 543.7 1551.5 539.9 C1552.2 536.0 1552.9 531.5 1553.6 528.4 C1554.3 525.3 1554.9 523.1 1555.6 521.1 C1556.4 519.1 1557.4 517.7 1558.3 516.4 C1559.1 515.1 1560.1 513.9 1560.9 513.3 C1561.6 512.7 1562.3 512.3 1562.9 512.8 C1563.6 513.2 1564.0 514.1 1564.5 515.9 C1565.0 517.6 1565.6 521.2 1566.1 523.2 C1566.6 525.2 1567.1 527.4 1567.6 527.9 C1568.2 528.4 1568.6 527.4 1569.2 526.3 C1569.8 525.2 1570.6 522.4 1571.3 521.1 C1572.0 519.8 1572.7 518.8 1573.4 518.5 C1574.1 518.2 1574.8 518.6 1575.5 519.5 C1576.2 520.5 1576.8 522.1 1577.5 524.2 C1578.2 526.4 1578.9 529.4 1579.6 532.6 C1580.3 535.7 1581.1 539.5 1581.7 543.0 C1582.3 546.5 1582.8 549.6 1583.3 553.4 C1583.8 557.3 1584.3 561.0 1584.8 565.9 C1585.4 570.9 1585.7 578.2 1586.3 582.9 C1587.0 587.6 1588.1 592.7 1588.9 594.2 C1589.7 595.6 1590.5 592.9 1591.2 591.6 C1591.9 590.3 1592.5 587.5 1593.3 586.4 C1594.1 585.2 1595.0 586.5 1595.9 584.6 C1596.7 582.8 1597.6 577.9 1598.4 575.3 C1599.2 572.7 1599.9 570.3 1600.5 569.1 C1601.1 567.9 1601.5 567.7 1602.1 568.0 C1602.6 568.4 1603.1 569.9 1603.6 571.2 C1604.1 572.4 1604.7 575.2 1605.2 575.3 C1605.7 575.5 1606.2 574.1 1606.7 572.2 C1607.3 570.3 1607.8 566.5 1608.3 563.9 C1608.8 561.3 1609.4 558.0 1609.9 556.6 C1610.4 555.1 1610.9 555.2 1611.4 555.0 C1612.0 554.8 1612.5 556.0 1613.0 555.5 C1613.5 555.1 1614.1 554.5 1614.6 552.4 C1615.1 550.3 1615.5 546.8 1615.9 543.0 C1616.4 539.2 1616.8 532.7 1617.2 529.4 C1617.6 526.1 1617.9 524.4 1618.2 523.2 C1618.6 522.0 1618.9 521.8 1619.3 522.1 C1619.6 522.5 1620.0 523.2 1620.5 525.3 C1621.0 527.4 1621.7 531.7 1622.4 534.7 C1623.0 537.6 1623.8 540.7 1624.5 543.0 C1625.2 545.3 1625.9 546.8 1626.6 548.2 C1627.3 549.6 1627.9 550.6 1628.6 551.3 C1629.3 552.0 1630.1 552.6 1630.7 552.4 C1631.3 552.2 1631.8 551.5 1632.3 550.3 C1632.8 549.1 1633.3 546.6 1633.9 545.1 C1634.4 543.6 1634.9 542.1 1635.4 541.4 C1635.9 540.7 1636.4 540.9 1637.0 540.9 C1637.6 541.0 1638.5 542.1 1639.1 541.7 C1639.7 541.4 1640.1 540.5 1640.6 538.8 C1641.2 537.1 1641.7 533.4 1642.2 531.5 C1642.7 529.6 1643.2 528.1 1643.8 527.4 C1644.3 526.6 1644.8 526.7 1645.3 526.8 C1645.9 527.0 1646.4 528.1 1646.9 528.4 C1647.4 528.7 1647.9 529.4 1648.5 528.9 C1649.0 528.4 1649.5 527.1 1650.0 525.3 C1650.5 523.4 1651.1 520.8 1651.6 518.0 C1652.1 515.2 1652.6 511.9 1653.2 508.6 C1653.7 505.3 1654.2 501.3 1654.7 498.2 C1655.2 495.0 1655.5 491.7 1656.0 489.8 C1656.4 487.9 1656.8 487.3 1657.3 486.7 C1657.8 486.1 1658.4 486.0 1658.9 486.2 C1659.4 486.3 1659.9 487.4 1660.5 487.7 C1661.0 488.1 1661.5 488.4 1662.0 488.3 C1662.5 488.1 1663.1 487.0 1663.6 486.7 C1664.1 486.4 1664.5 486.1 1665.1 486.5 C1665.8 486.8 1666.4 487.3 1667.2 488.8 C1668.0 490.2 1669.0 492.8 1669.8 495.0 C1670.7 497.3 1671.6 500.1 1672.4 502.3 C1673.3 504.6 1674.3 506.9 1675.1 508.6 C1675.8 510.2 1676.4 511.5 1677.1 512.2 C1677.8 513.0 1678.6 513.0 1679.2 513.0 C1679.8 513.0 1680.3 512.4 1680.8 512.2 C1681.3 512.1 1681.7 511.7 1682.4 511.9 C1683.0 512.2 1683.7 512.8 1684.4 513.8 C1685.2 514.8 1686.3 516.2 1687.0 518.0 C1687.8 519.7 1688.5 522.5 1689.1 524.2 C1689.8 526.0 1690.4 527.9 1691.0 528.4 C1691.6 528.9 1692.1 528.4 1692.8 527.4 C1693.4 526.3 1694.2 524.1 1694.9 522.1 C1695.6 520.2 1696.4 517.2 1697.0 515.9 C1697.5 514.6 1697.9 514.1 1698.3 514.3 C1698.7 514.5 1699.1 514.9 1699.6 516.9 C1700.0 518.9 1700.4 522.3 1700.8 526.3 C1701.2 530.3 1701.6 536.0 1701.9 540.9 C1702.1 545.8 1702.3 550.8 1702.5 555.5 C1702.7 560.2 1702.8 565.6 1702.9 569.1 C1703.0 572.5 1703.2 575.2 1703.2 576.4"/>
</g>
<rect x="808.2" y="33" width="20" height="6.2" fill="#4f84e4"/>
<rect x="854.9" y="33" width="20" height="6.2" fill="#dc4c40"/>
<rect x="901.6" y="33" width="20" height="6.2" fill="#efbf3e"/>
</svg>
<div class="lab yl" style="top:80.8px">1500</div>
<div class="lab yl" style="top:379.7px">1000</div>
<div class="lab yl" style="top:680.5px">500</div>
<div class="lab yl" style="top:979.4px">0</div>
<div class="lab xl" style="left:153.6px">1 October 2023</div>
<div class="lab xl" style="left:544.4px">1 January 2024</div>
<div class="lab xl" style="left:933.5px">1 April 2024</div>
<div class="lab xl" style="left:1321.1px">1 July 2024</div>
</body></html>
